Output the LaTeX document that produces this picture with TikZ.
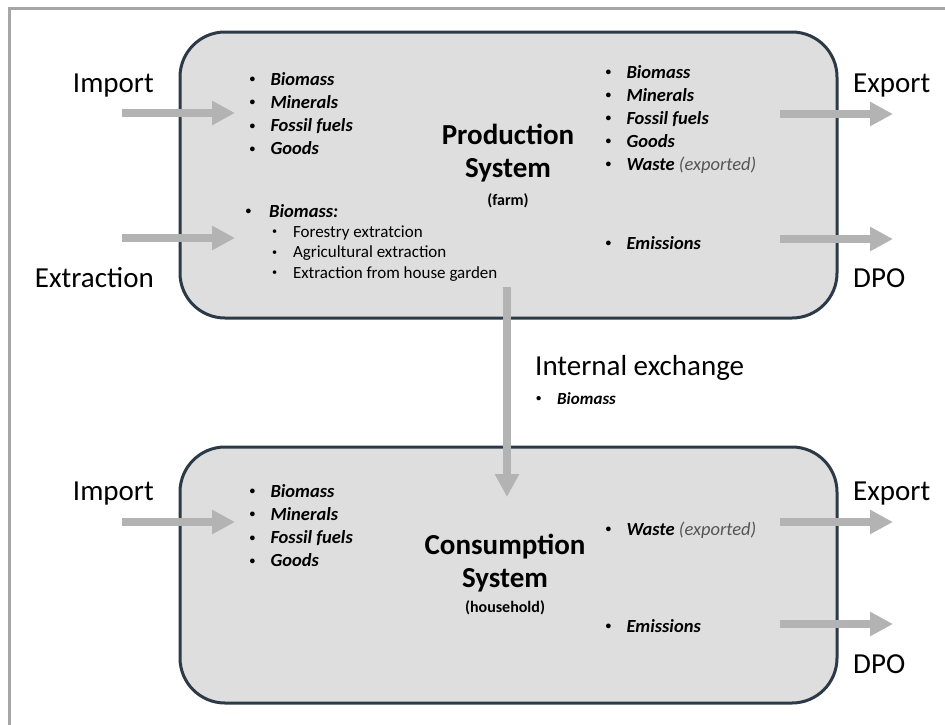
\documentclass[tikz,border=0pt]{standalone}
\usepackage{fontspec}
\setmainfont{Carlito}
\usetikzlibrary{arrows.meta}

\definecolor{boxfill}{HTML}{DEDEDE}
\definecolor{boxline}{HTML}{2C3A47}
\definecolor{flowgray}{HTML}{B3B3B3}
\definecolor{framegray}{HTML}{A6A6A6}
\definecolor{notegray}{HTML}{555555}

% bullet item and list helpers
\newcommand{\bitem}[2][23pt]{\makebox[#1][l]{\hspace{2pt}\raisebox{.13em}{\scalebox{.6}{\textbullet}}}#2}
\newcommand{\flowlist}[1]{\begin{tabular}[t]{@{}l@{}}#1\end{tabular}}

\begin{document}
\begin{tikzpicture}[
		x=1pt, y=-1pt,
		system/.style={draw=boxline, line width=3pt, fill=boxfill, rounded corners=45pt, inner sep=0pt},
		flow/.style={draw=flowgray, line width=7.5pt, -{Triangle[length=23pt, width=23pt]}},
		tag/.style={font=\fontsize{29}{35}\selectfont, inner sep=0pt},
		items/.style={font=\fontsize{18.5}{23.3}\selectfont\bfseries\itshape, inner sep=0pt, anchor=base west},
		subitems/.style={font=\fontsize{17}{20.5}\selectfont, inner sep=0pt, anchor=base west},
		title/.style={font=\fontsize{29}{33}\selectfont\bfseries, align=center, inner sep=0pt},
		subtitle/.style={font=\fontsize{16}{19}\selectfont\bfseries, inner sep=0pt}
	]
	\useasboundingbox (0,0) rectangle (945,724);
	
	% frame
	\draw[framegray, line width=2.5pt] (9.5,730) -- (9.5,8.7) -- (950,8.7);
	
	% systems
	\node[system, minimum width=657pt, minimum height=286pt] (prod) at (508.5,175) {};
	\node[system, minimum width=657pt, minimum height=256pt] (cons) at (508.5,575) {};
	
	\node[title] (prodT) at (508,153) {Production\\System};
	\node[subtitle] (prodS) at (508,201) {(farm)};
	\node[title] (consT) at (505,563) {Consumption\\System};
	\node[subtitle] (consS) at (505,608) {(household)};
	
	% production lists
	\node[items] (prodIn) at (247.3,85) {\flowlist{\bitem{Biomass}\\ \bitem{Minerals}\\ \bitem{Fossil fuels}\\ \bitem{Goods}}};
	\node[items] (prodExt) at (243.3,217) {\bitem[25.7pt]{Biomass:}};
	\node[subitems] (prodExtSub) at (269.8,237) {\flowlist{\bitem{Forestry extratcion}\\ \bitem{Agricultural extraction}\\ \bitem{Extraction from house garden}}};
	\node[items, font=\fontsize{18.5}{23}\selectfont\bfseries\itshape] (prodOut) at (603.3,78) {\flowlist{\bitem{Biomass}\\ \bitem{Minerals}\\ \bitem{Fossil fuels}\\ \bitem{Goods}\\ \bitem{Waste {\mdseries\color{notegray}(exported)}}}};
	\node[items] (prodEm) at (603.3,249) {\bitem{Emissions}};
	
	% consumption lists
	\node[items] (consIn) at (247.3,497) {\flowlist{\bitem{Biomass}\\ \bitem{Minerals}\\ \bitem{Fossil fuels}\\ \bitem{Goods}}};
	\node[items] (consOut) at (603.3,535) {\bitem{Waste {\mdseries\color{notegray}(exported)}}};
	\node[items] (consEm) at (603.3,632) {\bitem{Emissions}};
	
	% outside labels
	\node[tag, anchor=base east] (impP) at (154,92) {Import};
	\node[tag, anchor=base east] (extP) at (154,287) {Extraction};
	\node[tag, anchor=base west] (expP) at (853,92) {Export};
	\node[tag, anchor=base west] (dpoP) at (853,287) {DPO};
	\node[tag, anchor=base east] (impC) at (154,500.7) {Import};
	\node[tag, anchor=base west] (expC) at (853,500.7) {Export};
	\node[tag, anchor=base west] (dpoC) at (853,673) {DPO};
	
	\node[tag, anchor=base west] (xch) at (535,375) {Internal exchange};
	\node[items, font=\fontsize{17}{20}\selectfont\bfseries\itshape] (xchList) at (534,404) {\bitem[23pt]{Biomass}};
	
	% flow ends
	\coordinate (impPa) at (122,113);  \coordinate (impPb) at (235,113);
	\coordinate (extPa) at (122,238);  \coordinate (extPb) at (235,238);
	\coordinate (expPa) at (780,114);  \coordinate (expPb) at (893,114);
	\coordinate (dpoPa) at (780,239);  \coordinate (dpoPb) at (893,239);
	\coordinate (impCa) at (122,522);  \coordinate (impCb) at (235,522);
	\coordinate (expCa) at (780,522);  \coordinate (expCb) at (893,522);
	\coordinate (dpoCa) at (780,624);  \coordinate (dpoCb) at (893,624);
	\coordinate (xchA) at (507,287);   \coordinate (xchB) at (507,497);
	
	% flows
	\foreach \f in {impP, extP, expP, dpoP, impC, expC, dpoC}
		\draw[flow] (\f a) -- (\f b);
	\draw[flow] (xchA) -- (xchB);
\end{tikzpicture}
\end{document}
